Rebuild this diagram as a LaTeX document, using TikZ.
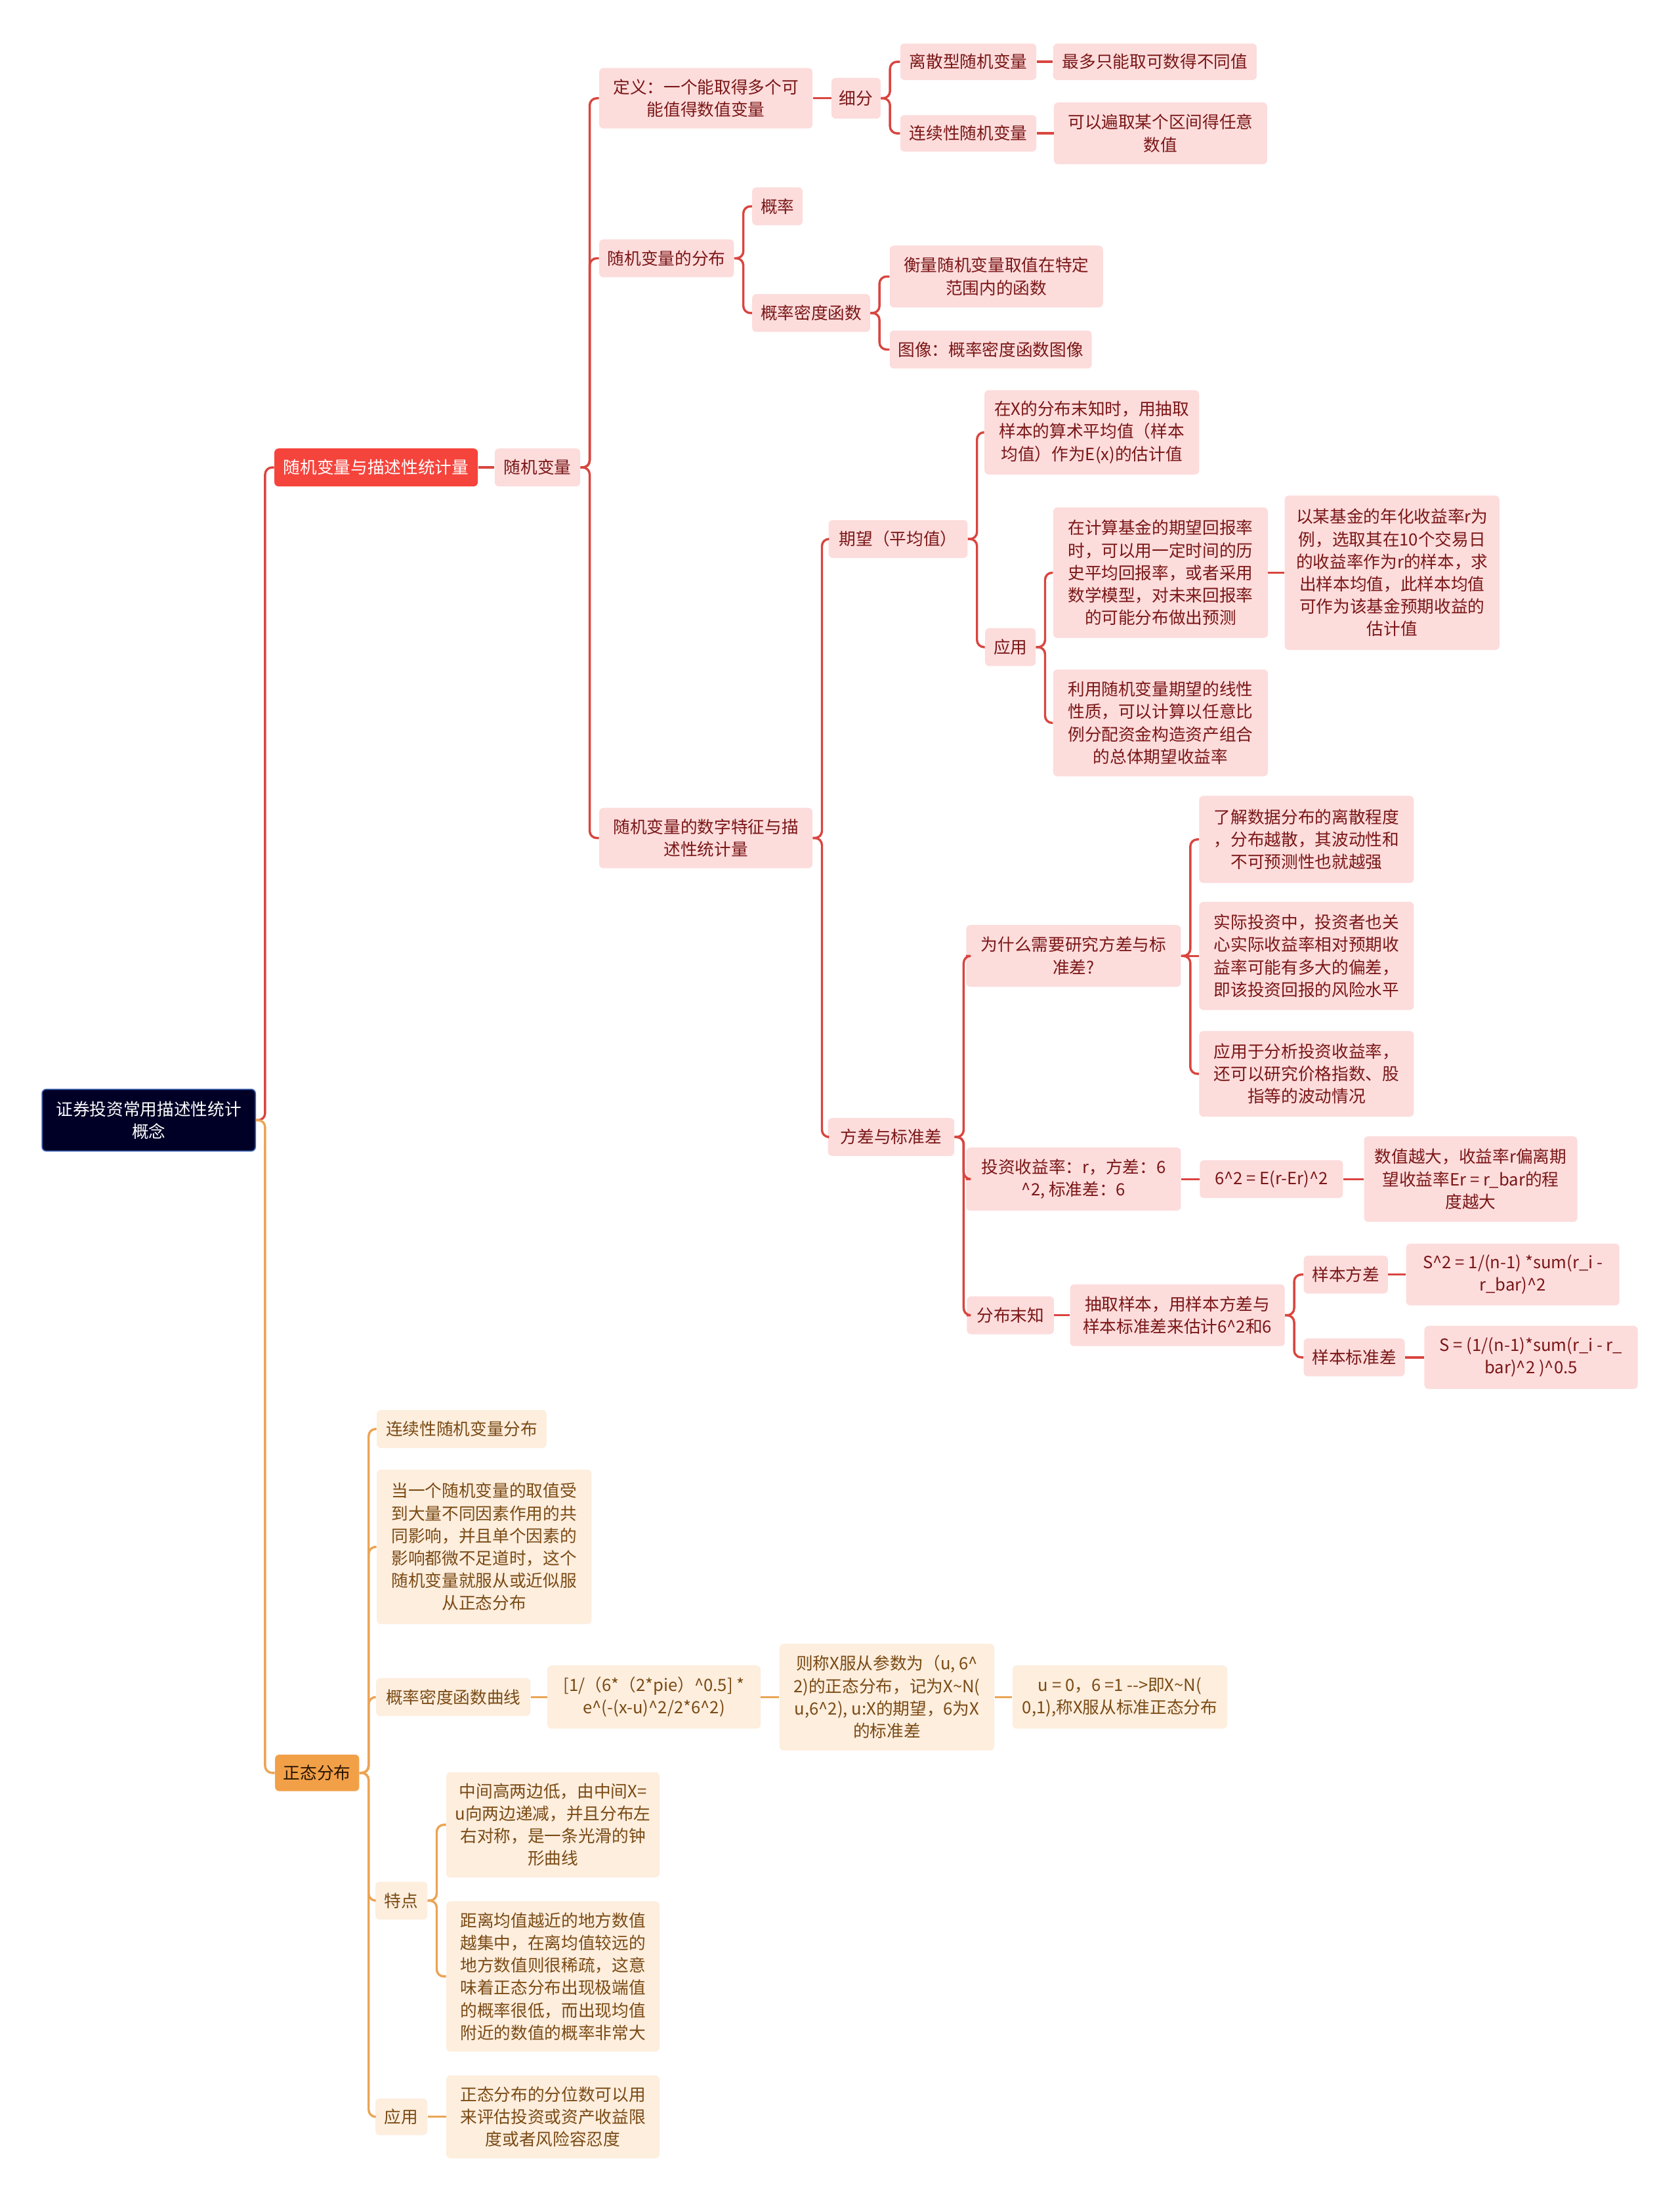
\documentclass[tikz,border=0pt]{standalone}
\usepackage{fontspec}
\setmainfont{Noto Sans CJK SC}
\newcommand\ca{\textasciicircum}
\newcommand\tl{\textasciitilde}
\newcommand\lnk[3]{\draw[#1] (#2.east) -- ++(6.5,0) |- (#3.west);}
\newcommand\slnk[3]{\draw[#1] (#2.east) -- (#3.west);}
\definecolor{redfill}{HTML}{F5443C}
\definecolor{pinkfill}{HTML}{FDDCDC}
\definecolor{pinktext}{HTML}{7A1616}
\definecolor{orgfill}{HTML}{F2A048}
\definecolor{creamfill}{HTML}{FDEEDE}
\definecolor{browntext}{HTML}{7A4A14}
\definecolor{rootfill}{HTML}{000026}
\definecolor{rootdraw}{HTML}{3A5FB0}
\definecolor{redline}{HTML}{D9453F}
\definecolor{orgline}{HTML}{EBA455}
\tikzset{
  x=1pt, y=-1pt,
  base/.style={rounded corners=3pt, inner sep=0pt, align=center, font=\fontsize{12}{16}\selectfont},
  wh/.style 2 args={minimum width=#1pt, minimum height=#2pt},
  rootbox/.style={base, fill=rootfill, draw=rootdraw, line width=0.8pt, text=white},
  redbox/.style={base, fill=redfill, text=white},
  pk/.style={base, fill=pinkfill, text=pinktext},
  orgbox/.style={base, fill=orgfill, text=black!75!orange!60!black},
  og/.style={base, fill=creamfill, text=browntext},
  rl/.style={draw=redline, line width=1.6pt, rounded corners=5pt},
  ol/.style={draw=orgline, line width=1.6pt, rounded corners=5pt},
}
\begin{document}
\begin{tikzpicture}
\useasboundingbox (0,0) rectangle (1197,1568);
\fill[white] (0,0) rectangle (1197,1568);
% root and level 1
\node[rootbox, wh={152}{44}] (root) at (106,798) {证券投资常用描述性统计\\概念};
\node[redbox, wh={145}{27}] (A) at (268,333) {随机变量与描述性统计量};
\node[orgbox, wh={60}{26}] (B) at (226,1263) {正态分布};
% red branch
\node[pk, wh={61}{27}] (rv) at (383,333) {随机变量};
\node[pk, wh={152}{43}] (def) at (503,70) {定义：一个能取得多个可\\能值得数值变量};
\node[pk, wh={96}{27}] (dist) at (475,184) {随机变量的分布};
\node[pk, wh={152}{43}] (num) at (503,597) {随机变量的数字特征与描\\述性统计量};
\node[pk, wh={35}{29}] (xf) at (610,70) {细分};
\node[pk, wh={97}{26}] (disc) at (690,44) {离散型随机变量};
\node[pk, wh={97}{26}] (cont) at (690,95) {连续性随机变量};
\node[pk, wh={145}{26}] (disc2) at (823,44) {最多只能取可数得不同值};
\node[pk, wh={152}{44}] (cont2) at (827,95) {可以遍取某个区间得任意\\数值};
\node[pk, wh={36}{27}] (prob) at (554,147) {概率};
\node[pk, wh={84}{27}] (pdf) at (578,223) {概率密度函数};
\node[pk, wh={152}{44}] (pdf1) at (710,197) {衡量随机变量取值在特定\\范围内的函数};
\node[pk, wh={144}{27}] (pdf2) at (706,249) {图像：概率密度函数图像};
\node[pk, wh={99}{27}] (exp) at (640,384) {期望（平均值）};
\node[pk, wh={90}{27}] (var) at (635,810) {方差与标准差};
\node[pk, wh={153}{60}] (exp1) at (778,308) {在X的分布末知时，用抽取\\样本的算术平均值（样本\\均值）作为E(x)的估计值};
\node[pk, wh={36}{27}] (expapp) at (720,461) {应用};
\node[pk, wh={153}{93}] (app1) at (827,408) {在计算基金的期望回报率\\时，可以用一定时间的历\\史平均回报率，或者采用\\数学模型，对未来回报率\\的可能分布做出预测};
\node[pk, wh={153}{76}] (app2) at (827,515) {利用随机变量期望的线性\\性质，可以计算以任意比\\例分配资金构造资产组合\\的总体期望收益率};
\node[pk, wh={153}{110}] (app1a) at (992,408) {以某基金的年化收益率r为\\例，选取其在10个交易日\\的收益率作为r的样本，求\\出样本均值，此样本均值\\可作为该基金预期收益的\\估计值};
\node[pk, wh={153}{44}] (why) at (765,681) {为什么需要研究方差与标\\准差?};
\node[pk, wh={153}{45}] (ret) at (765,840) {投资收益率：r，方差：6\\\ca2, 标准差：6};
\node[pk, wh={62}{27}] (unk) at (720,937) {分布末知};
\node[pk, wh={153}{62}] (why1) at (931,598) {了解数据分布的离散程度\\，分布越散，其波动性和\\不可预测性也就越强};
\node[pk, wh={153}{77}] (why2) at (931,681) {实际投资中，投资者也关\\心实际收益率相对预期收\\益率可能有多大的偏差，\\即该投资回报的风险水平};
\node[pk, wh={153}{61}] (why3) at (931,765) {应用于分析投资收益率，\\还可以研究价格指数、股\\指等的波动情况};
\node[pk, wh={102}{27}] (ret1) at (906,840) {6\ca2 = E(r-Er)\ca2};
\node[pk, wh={152}{61}] (ret2) at (1048,840) {数值越大，收益率r偏离期\\望收益率Er = r\_bar的程\\度越大};
\node[pk, wh={153}{44}] (unk1) at (839,937) {抽取样本，用样本方差与\\样本标准差来估计6\ca2和6};
\node[pk, wh={60}{27}] (sv) at (959,908) {样本方差};
\node[pk, wh={72}{27}] (ssd) at (965,967) {样本标准差};
\node[pk, wh={152}{44}] (sv1) at (1078,908) {S\ca2 = 1/(n-1) *sum(r\_i -\\r\_bar)\ca2};
\node[pk, wh={152}{45}] (ssd1) at (1091,967) {S = (1/(n-1)*sum(r\_i - r\_\\bar)\ca2 )\ca0.5};
% orange branch
\node[og, wh={121}{27}] (n1) at (329,1018) {连续性随机变量分布};
\node[og, wh={153}{110}] (n2) at (345,1102) {当一个随机变量的取值受\\到大量不同因素作用的共\\同影响，并且单个因素的\\影响都微不足道时，这个\\随机变量就服从或近似服\\从正态分布};
\node[og, wh={110}{27}] (n3) at (323,1209) {概率密度函数曲线};
\node[og, wh={37}{27}] (n4) at (286,1354) {特点};
\node[og, wh={37}{26}] (n5) at (286,1508) {应用};
\node[og, wh={152}{45}] (f1) at (466,1209) {[1/（6*（2*pie）\ca0.5] *\\e\ca(-(x-u)\ca2/2*6\ca2)};
\node[og, wh={153}{76}] (f2) at (632,1209) {则称X服从参数为（u, 6\ca\\2)的正态分布，记为X\tl N(\\u,6\ca2), u:X的期望，6为X\\的标准差};
\node[og, wh={153}{45}] (f3) at (798,1209) {u = 0，6 =1 -{}-{}>即X\tl N(\\0,1),称X服从标准正态分布};
\node[og, wh={152}{75}] (t1) at (394,1300) {中间高两边低，由中间X=\\u向两边递减，并且分布左\\右对称，是一条光滑的钟\\形曲线};
\node[og, wh={152}{107}] (t2) at (394,1408) {距离均值越近的地方数值\\越集中，在离均值较远的\\地方数值则很稀疏，这意\\味着正态分布出现极端值\\的概率很低，而出现均值\\附近的数值的概率非常大};
\node[og, wh={152}{59}] (a1) at (394,1508) {正态分布的分位数可以用\\来评估投资或资产收益限\\度或者风险容忍度};
% connectors
\lnk{rl}{root}{A}
\lnk{ol}{root}{B}
\slnk{rl}{A}{rv}
\lnk{rl}{rv}{def}
\lnk{rl}{rv}{dist}
\lnk{rl}{rv}{num}
\slnk{rl}{def}{xf}
\lnk{rl}{xf}{disc}
\lnk{rl}{xf}{cont}
\slnk{rl}{disc}{disc2}
\slnk{rl}{cont}{cont2}
\lnk{rl}{dist}{prob}
\lnk{rl}{dist}{pdf}
\lnk{rl}{pdf}{pdf1}
\lnk{rl}{pdf}{pdf2}
\lnk{rl}{num}{exp}
\lnk{rl}{num}{var}
\lnk{rl}{exp}{exp1}
\lnk{rl}{exp}{expapp}
\lnk{rl}{expapp}{app1}
\lnk{rl}{expapp}{app2}
\slnk{rl}{app1}{app1a}
\lnk{rl}{var}{why}
\lnk{rl}{var}{ret}
\lnk{rl}{var}{unk}
\lnk{rl}{why}{why1}
\slnk{rl}{why}{why2}
\lnk{rl}{why}{why3}
\slnk{rl}{ret}{ret1}
\slnk{rl}{ret1}{ret2}
\slnk{rl}{unk}{unk1}
\lnk{rl}{unk1}{sv}
\lnk{rl}{unk1}{ssd}
\slnk{rl}{sv}{sv1}
\slnk{rl}{ssd}{ssd1}
\lnk{ol}{B}{n1}
\lnk{ol}{B}{n2}
\lnk{ol}{B}{n3}
\lnk{ol}{B}{n4}
\lnk{ol}{B}{n5}
\slnk{ol}{n3}{f1}
\slnk{ol}{f1}{f2}
\slnk{ol}{f2}{f3}
\lnk{ol}{n4}{t1}
\lnk{ol}{n4}{t2}
\slnk{ol}{n5}{a1}
\end{tikzpicture}
\end{document}
